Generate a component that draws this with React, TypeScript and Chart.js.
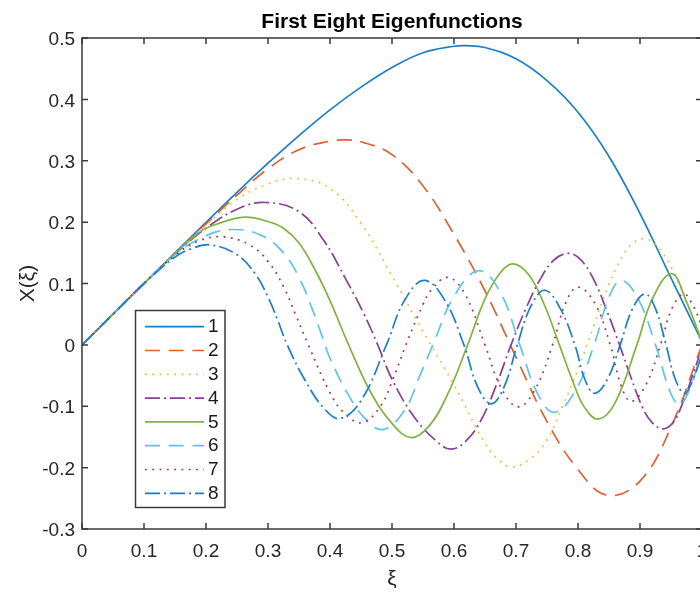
import React, { useEffect, useRef } from 'react';
import { Chart, registerables } from 'chart.js';

Chart.register(...registerables);

// ---- text ----
const chartTitle = 'First Eight Eigenfunctions';
const xAxisLabel = 'ξ';
const yAxisLabel = 'X(ξ)';
const seriesNames = ['1', '2', '3', '4', '5', '6', '7', '8'];

// ---- tick values ----
const xTicks = [0, 0.1, 0.2, 0.3, 0.4, 0.5, 0.6, 0.7, 0.8, 0.9, 1];
const yTicks = [-0.3, -0.2, -0.1, 0, 0.1, 0.2, 0.3, 0.4, 0.5];

// ---- series values ----
const xi1 = [0, 0.05, 0.1, 0.15, 0.2, 0.25, 0.3, 0.35, 0.4, 0.45, 0.5, 0.55, 0.6, 0.62, 0.65, 0.7, 0.75, 0.8, 0.85, 0.9, 0.95, 1.0];
const X1 = [0, 0.05, 0.1, 0.15, 0.1995, 0.2485, 0.296, 0.341, 0.383, 0.42, 0.452, 0.476, 0.4865, 0.4875, 0.4845, 0.466, 0.4305, 0.379, 0.307, 0.214, 0.109, 0.005];

const xi2 = [0, 0.05, 0.1, 0.15, 0.2, 0.25, 0.3, 0.35, 0.4, 0.425, 0.45, 0.5, 0.55, 0.6, 0.65, 0.7, 0.75, 0.8, 0.847, 0.9, 0.95, 1.0];
const X2 = [0, 0.05, 0.1, 0.149, 0.197, 0.244, 0.287, 0.318, 0.332, 0.334, 0.331, 0.31, 0.259, 0.18, 0.088, -0.02, -0.125, -0.203, -0.245, -0.222, -0.134, 0.0];

const xi3 = [0, 0.05, 0.1, 0.15, 0.2, 0.25, 0.3, 0.345, 0.4, 0.45, 0.5, 0.55, 0.6, 0.65, 0.675, 0.695, 0.725, 0.75, 0.775, 0.8, 0.825, 0.85, 0.875, 0.89, 0.905, 0.925, 0.95, 0.975, 1.0];
const X3 = [0, 0.05, 0.1, 0.149, 0.195, 0.237, 0.262, 0.271, 0.255, 0.198, 0.112, 0.022, -0.065, -0.16, -0.19, -0.199, -0.184, -0.155, -0.1, -0.04, 0.03, 0.099, 0.15, 0.167, 0.173, 0.164, 0.127, 0.07, 0.003];

const xi4 = [0, 0.05, 0.1, 0.15, 0.2, 0.25, 0.295, 0.35, 0.39, 0.425, 0.455, 0.477, 0.5, 0.536, 0.572, 0.595, 0.619, 0.644, 0.668, 0.692, 0.715, 0.738, 0.761, 0.785, 0.805, 0.826, 0.846, 0.867, 0.885, 0.905, 0.92, 0.937, 0.953, 0.968, 0.984, 1.0];
const X4 = [0, 0.05, 0.1, 0.148, 0.19, 0.221, 0.232, 0.217, 0.17, 0.108, 0.05, 0, -0.056, -0.118, -0.157, -0.17, -0.157, -0.122, -0.066, 0, 0.057, 0.105, 0.138, 0.149, 0.138, 0.105, 0.057, 0, -0.052, -0.104, -0.127, -0.137, -0.127, -0.097, -0.052, -0.005];

const xi5 = [0, 0.05, 0.1, 0.15, 0.19, 0.218, 0.262, 0.3, 0.325, 0.35, 0.375, 0.4, 0.43, 0.465, 0.5, 0.531, 0.56, 0.59, 0.622, 0.65, 0.675, 0.695, 0.72, 0.745, 0.77, 0.79, 0.81, 0.833, 0.86, 0.895, 0.92, 0.951, 0.975, 1.0];
const X5 = [0, 0.05, 0.1, 0.148, 0.184, 0.197, 0.208, 0.201, 0.19, 0.166, 0.124, 0.072, 0, -0.076, -0.128, -0.151, -0.132, -0.08, 0, 0.075, 0.118, 0.132, 0.115, 0.067, 0, -0.055, -0.101, -0.121, -0.094, 0, 0.075, 0.116, 0.07, 0.005];

const xi6 = [0, 0.05, 0.1, 0.15, 0.2, 0.245, 0.29, 0.325, 0.35, 0.37, 0.388, 0.4, 0.43, 0.455, 0.485, 0.52, 0.545, 0.566, 0.6, 0.64, 0.675, 0.706, 0.735, 0.762, 0.795, 0.826, 0.85, 0.87, 0.897, 0.925, 0.95, 0.965, 0.985, 1.0];
const X6 = [0, 0.05, 0.1, 0.147, 0.178, 0.188, 0.178, 0.15, 0.11, 0.062, 0.012, -0.022, -0.082, -0.118, -0.138, -0.107, -0.05, 0, 0.079, 0.121, 0.085, 0, -0.08, -0.11, -0.076, 0, 0.078, 0.105, 0.075, 0, -0.08, -0.097, -0.058, -0.005];

const xi7 = [0, 0.05, 0.1, 0.15, 0.19, 0.228, 0.27, 0.3, 0.325, 0.345, 0.365, 0.4, 0.423, 0.452, 0.482, 0.5, 0.5225, 0.55, 0.563, 0.59, 0.617, 0.65, 0.675, 0.703, 0.73, 0.759, 0.78, 0.8, 0.827, 0.852, 0.87, 0.886, 0.91, 0.933, 0.951, 0.97, 0.985, 1.0];
const X7 = [0, 0.05, 0.1, 0.146, 0.17, 0.176, 0.163, 0.136, 0.095, 0.048, 0, -0.078, -0.111, -0.127, -0.099, -0.06, 0, 0.066, 0.089, 0.11, 0.084, 0, -0.068, -0.101, -0.074, 0, 0.068, 0.094, 0.068, 0, -0.068, -0.092, -0.064, 0, 0.058, 0.083, 0.065, 0.03];

const xi8 = [0, 0.05, 0.1, 0.15, 0.175, 0.206, 0.25, 0.28, 0.3, 0.315, 0.331, 0.36, 0.39, 0.416, 0.45, 0.491, 0.52, 0.552, 0.585, 0.616, 0.638, 0.66, 0.681, 0.702, 0.724, 0.746, 0.77, 0.795, 0.811, 0.827, 0.848, 0.868, 0.888, 0.908, 0.925, 0.942, 0.957, 0.972, 0.986, 1.0];
const X8 = [0, 0.05, 0.1, 0.143, 0.156, 0.163, 0.147, 0.115, 0.078, 0.042, 0, -0.058, -0.103, -0.12, -0.091, 0, 0.072, 0.105, 0.073, 0, -0.068, -0.096, -0.068, 0, 0.063, 0.089, 0.062, 0, -0.056, -0.079, -0.055, 0, 0.059, 0.083, 0.059, 0, -0.056, -0.079, -0.055, -0.015];

const seriesXi = [xi1, xi2, xi3, xi4, xi5, xi6, xi7, xi8];
const seriesX = [X1, X2, X3, X4, X5, X6, X7, X8];

// ---- styles ----
const lineColors = ['#1a7fc7', '#de6030', '#f0bb3c', '#8a3f99', '#80b340', '#5ec4ef', '#ad2d45', '#1a7fc7'];
const lineDashes = [[], [15, 8.7], [1.8, 5.5], [15, 4, 2, 4], [], [15, 8.7], [1.8, 5.5], [15, 4, 2, 4]];
const FONT = '"Liberation Sans", Arial, Helvetica, sans-serif';
const axisColor = '#262626';
const frameColor = '#3a3a3a';

const fmt = (v: number) => {
  const r = Math.round(v * 10) / 10;
  return r === 0 ? '0' : String(r);
};

const matlabFrame = {
  id: 'matlabFrame',
  afterDatasetsDraw(chart: any) {
    const { ctx, chartArea, scales } = chart;
    const { left, right, top, bottom } = chartArea;
    const xs = scales.x;
    const ys = scales.y;
    ctx.save();
    ctx.strokeStyle = frameColor;
    ctx.lineWidth = 1.5;
    ctx.setLineDash([]);
    ctx.beginPath();
    const tl = 6;
    xTicks.forEach((v) => {
      const px = xs.getPixelForValue(v);
      ctx.moveTo(px, bottom);
      ctx.lineTo(px, bottom - tl);
      ctx.moveTo(px, top);
      ctx.lineTo(px, top + tl);
    });
    yTicks.forEach((v) => {
      const py = ys.getPixelForValue(v);
      ctx.moveTo(left, py);
      ctx.lineTo(left + tl, py);
      ctx.moveTo(right, py);
      ctx.lineTo(right - tl, py);
    });
    ctx.stroke();
    ctx.strokeRect(left, top, right - left, bottom - top);

    // legend box
    const bx = 135.5, by = 310.5, bw = 89.5, bh = 197;
    ctx.fillStyle = '#ffffff';
    ctx.fillRect(bx, by, bw, bh);
    ctx.strokeStyle = frameColor;
    ctx.lineWidth = 1.5;
    ctx.strokeRect(bx, by, bw, bh);
    const ds = chart.data.datasets;
    ds.forEach((d: any, i: number) => {
      const ey = 326.7 + i * 23.8;
      ctx.beginPath();
      ctx.strokeStyle = d.borderColor;
      ctx.lineWidth = 1.7;
      ctx.setLineDash(d.borderDash || []);
      ctx.moveTo(145, ey);
      ctx.lineTo(204, ey);
      ctx.stroke();
      ctx.setLineDash([]);
      ctx.fillStyle = '#1a1a1a';
      ctx.font = `19px ${FONT}`;
      ctx.textAlign = 'left';
      ctx.textBaseline = 'middle';
      ctx.fillText(d.label, 208, ey + 0.5);
    });
    ctx.restore();
  },
};

export default function App() {
  const ref = useRef<HTMLCanvasElement | null>(null);

  useEffect(() => {
    const canvas = ref.current;
    if (!canvas) return;
    Chart.defaults.font.family = FONT;
    const datasets = seriesNames.map((name, i) => ({
      label: name,
      data: seriesXi[i].map((v, j) => ({ x: v, y: seriesX[i][j] })),
      borderColor: lineColors[i],
      backgroundColor: lineColors[i],
      borderDash: lineDashes[i],
      borderWidth: 1.7,
      pointRadius: 0,
      fill: false,
      tension: 0.4,
      order: 7 - i,
    }));
    const chart = new Chart(canvas, {
      type: 'line',
      data: { datasets },
      options: {
        responsive: false,
        animation: false,
        devicePixelRatio: 1,
        layout: { padding: { left: 0, right: 22, top: 0, bottom: 0 } },
        plugins: {
          legend: { display: false },
          tooltip: { enabled: false },
          title: {
            display: true,
            text: chartTitle,
            fullSize: false,
            color: '#000000',
            font: { size: 21, weight: 'bold', family: FONT },
            padding: { top: 9.4, bottom: 3.4 },
          },
        },
        scales: {
          x: {
            type: 'linear',
            min: 0,
            max: 1,
            afterBuildTicks: (s: any) => {
              s.ticks = xTicks.map((v) => ({ value: v }));
            },
            afterFit: (s: any) => {
              s.height = 64;
            },
            ticks: {
              callback: (v: any) => fmt(Number(v)),
              color: axisColor,
              font: { size: 19, family: FONT },
              padding: 11.4,
              maxRotation: 0,
              autoSkip: false,
            },
            grid: { display: false, drawTicks: false },
            border: { display: false },
            title: {
              display: true,
              text: xAxisLabel,
              color: axisColor,
              font: { size: 21, family: FONT },
              padding: { top: 0, bottom: 0.9 },
            },
          },
          y: {
            type: 'linear',
            min: -0.3,
            max: 0.5,
            afterBuildTicks: (s: any) => {
              s.ticks = yTicks.map((v) => ({ value: v }));
            },
            afterFit: (s: any) => {
              s.width = 82;
            },
            ticks: {
              callback: (v: any) => fmt(Number(v)),
              color: axisColor,
              font: { size: 19, family: FONT },
              padding: 7,
              labelOffset: 2,
              autoSkip: false,
            },
            grid: { display: false, drawTicks: false },
            border: { display: false },
            title: {
              display: true,
              text: yAxisLabel,
              color: axisColor,
              font: { size: 21, family: FONT },
              padding: { top: 15.4, bottom: 0 },
            },
          },
        },
      },
      plugins: [matlabFrame],
    } as any);
    return () => chart.destroy();
  }, []);

  return (
    <div
      style={{
        position: 'fixed',
        left: 0,
        top: 0,
        width: 700,
        height: 593,
        overflow: 'hidden',
        background: '#ffffff',
      }}
    >
      <canvas ref={ref} width={724} height={593} style={{ width: 724, height: 593, display: 'block' }} />
    </div>
  );
}
